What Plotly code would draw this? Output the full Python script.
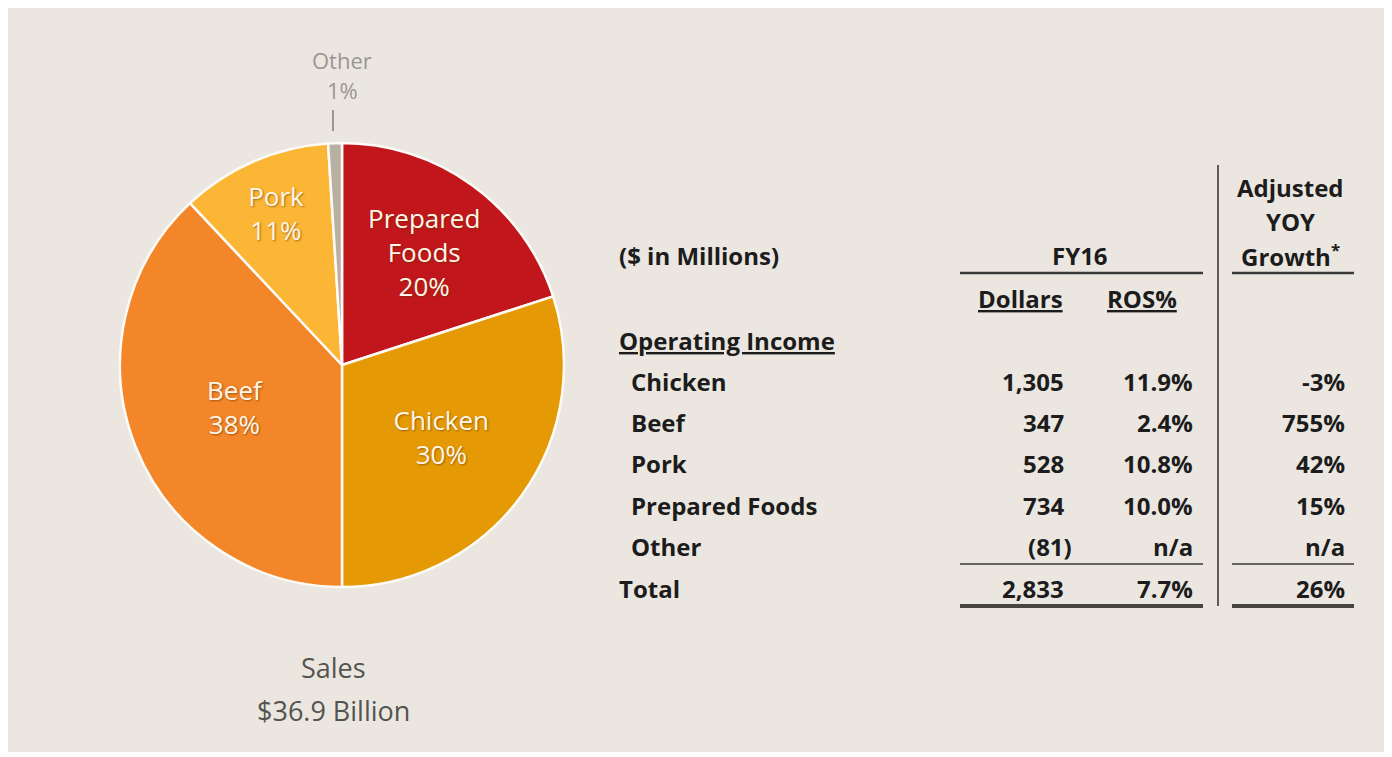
import plotly.graph_objects as go

# page (browser) body has an 8px margin, so positions below are given in page
# pixels and shifted by OFF into figure pixels
OFF = 8
PW, PH = 1392, 757
W, H = PW - OFF, PH - OFF

# ---------------- data ----------------
seg_labels = ["Prepared Foods", "Chicken", "Beef", "Pork", "Other"]
seg_display = ["Prepared<br>Foods", "Chicken", "Beef", "Pork", "Other"]
seg_share = [20, 30, 38, 11, 1]
seg_colors = ["#c1171c", "#e59a05", "#f38628", "#fbb635", "#b9b0a3"]

sales_title = "Sales"
sales_total = "$36.9 Billion"

table_unit = "($ in Millions)"
section_title = "Operating Income"
period = "FY16"
col_heads = ["Dollars", "ROS%"]
yoy_head = ["Adjusted", "YOY", "Growth<sup>*</sup>"]

row_labels = ["Chicken", "Beef", "Pork", "Prepared Foods", "Other"]
row_dollars = ["1,305", "347", "528", "734", "(81)"]
row_ros = ["11.9%", "2.4%", "10.8%", "10.0%", "n/a"]
row_yoy = ["-3%", "755%", "42%", "15%", "n/a"]
total_label = "Total"
total_dollars = "2,833"
total_ros = "7.7%"
total_yoy = "26%"

# ---------------- styles ----------------
BG = "#ebe7e0"
INK = "#1c1c1c"
TFONT = "Open Sans"
TSIZE = 24


def X(x):
    return x - OFF


def Y(y):
    return y - OFF


fig = go.Figure()

# invisible cartesian helper (pixel coordinate system)
fig.add_trace(go.Scatter(x=[0], y=[0], mode="markers", marker=dict(opacity=0),
                         showlegend=False, hoverinfo="skip"))

# pie (page pixels)
cx0, cx1 = 120, 564
cy0, cy1 = 143, 587
fig.add_trace(go.Pie(
    labels=seg_labels,
    values=seg_share,
    text=seg_display,
    texttemplate="%{text}<br>%{value}%",
    textposition=["inside", "inside", "inside", "inside", "none"],
    insidetextorientation="horizontal",
    sort=False,
    direction="clockwise",
    rotation=0,
    marker=dict(colors=seg_colors, line=dict(color="#fdfbf7", width=2.5)),
    textfont=dict(family=TFONT, size=26, color="#fff6e8",
                  shadow="1px 1px 2px rgba(90,50,0,0.55)"),
    domain=dict(x=[X(cx0) / W, X(cx1) / W], y=[1 - Y(cy1) / H, 1 - Y(cy0) / H]),
    showlegend=False,
    hoverinfo="label+percent",
))

shapes = []
annots = []


def line(x0, y0, x1, y1, w=2, c="#3a3a3a"):
    shapes.append(dict(type="line", xref="x", yref="y", x0=X(x0), y0=Y(y0),
                       x1=X(x1), y1=Y(y1), line=dict(color=c, width=w)))


def txt(x, y, s, anchor="left", size=TSIZE, color=INK, bold=True, family=TFONT):
    annots.append(dict(xref="x", yref="y", x=X(x), y=Y(y), text=s, showarrow=False,
                       xanchor=anchor, yanchor="middle",
                       font=dict(family=family, size=size, color=color,
                                 weight="bold" if bold else "normal")))


# background panel
shapes.append(dict(type="rect", xref="x", yref="y", x0=X(8), y0=Y(6), x1=X(1385),
                   y1=Y(752), fillcolor=BG, line=dict(width=0), layer="below"))

# Other label + leader
other_i = seg_labels.index("Other")
txt(342, 60, seg_labels[other_i], anchor="center", size=22, color="#9a9690", bold=False)
txt(342, 90, f"{seg_share[other_i]}%", anchor="center", size=22, color="#9a9690", bold=False)
line(333, 110, 333, 131, w=2, c="#9a9690")

# Sales caption
txt(333, 667, sales_title, anchor="center", size=27, color="#555350", bold=False)
txt(333, 710, sales_total, anchor="center", size=27, color="#555350", bold=False)

# table header
txt(617, 255, table_unit)
txt(1080, 255, period, anchor="center")
line(960, 273, 1203, 273, w=2.5)
line(1232, 273, 1354, 273, w=2.5)
for i, s in enumerate(yoy_head):
    txt(1290, 187 + 34 * i, s, anchor="center")
txt(1020, 298, f"<u>{col_heads[0]}</u>", anchor="center")
txt(1142, 298, f"<u>{col_heads[1]}</u>", anchor="center")
txt(617, 340, f"<u>{section_title}</u>")

# vertical divider
line(1218, 165, 1218, 606, w=1.6)

# rows
row_y0, row_dy = 381, 41.4
for i, lab in enumerate(row_labels):
    y = row_y0 + row_dy * i
    txt(629, y, lab)
    dx = 1074 if row_dollars[i].startswith("(") else 1066
    txt(dx, y, row_dollars[i], anchor="right")
    txt(1195, y, row_ros[i], anchor="right")
    txt(1347, y, row_yoy[i], anchor="right")

ty = row_y0 + row_dy * len(row_labels)
line(960, 564, 1203, 564, w=1.6)
line(1232, 564, 1354, 564, w=1.6)
txt(617, ty, total_label)
txt(1066, ty, total_dollars, anchor="right")
txt(1195, ty, total_ros, anchor="right")
txt(1347, ty, total_yoy, anchor="right")
line(960, 606, 1203, 606, w=4, c="#474542")
line(1232, 606, 1354, 606, w=4, c="#474542")

fig.update_layout(
    width=W, height=H,
    margin=dict(l=0, r=0, t=0, b=0),
    paper_bgcolor="white",
    plot_bgcolor="rgba(0,0,0,0)",
    xaxis=dict(range=[0, W], visible=False, domain=[0, 1], fixedrange=True),
    yaxis=dict(range=[H, 0], visible=False, domain=[0, 1], fixedrange=True),
    shapes=shapes,
    annotations=annots,
    uniformtext=dict(minsize=26, mode="show"),
    showlegend=False,
)

fig.write_html("out.html")
